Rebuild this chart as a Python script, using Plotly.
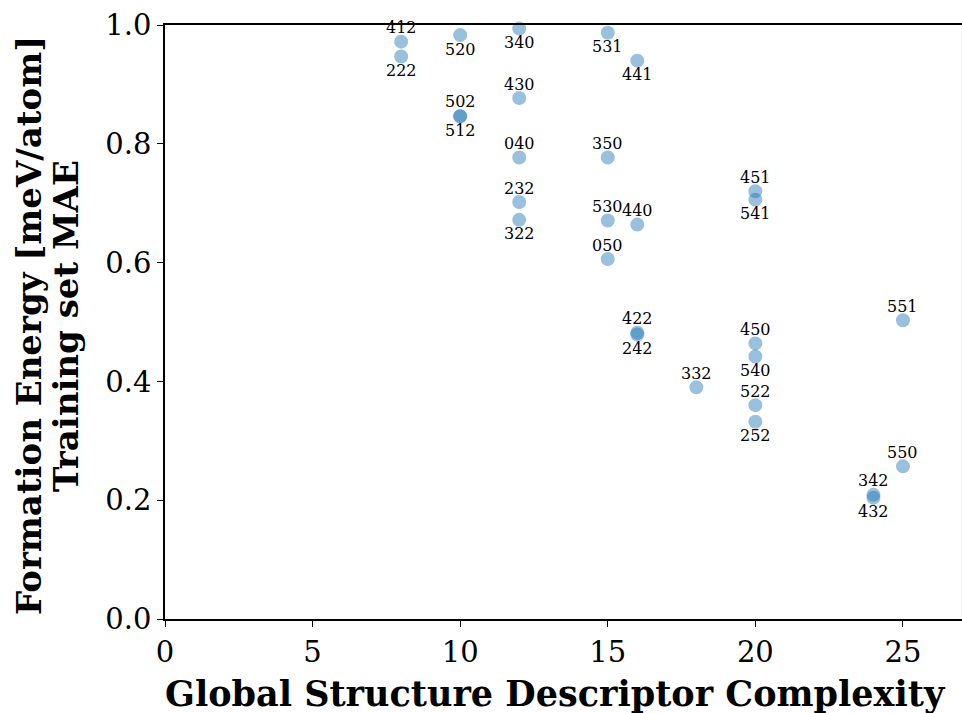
import plotly.graph_objects as go

# Descriptor complexity, training-set MAE and the (l, m, n) label of each descriptor
complexity = [8, 8, 10, 10, 10, 12, 12, 12, 12, 12, 15, 15, 15, 15, 16, 16, 16, 16,
              18, 20, 20, 20, 20, 20, 20, 24, 24, 25, 25]
mae = [0.972, 0.947, 0.983, 0.847, 0.846, 0.994, 0.877, 0.777, 0.702, 0.672,
       0.987, 0.777, 0.671, 0.606, 0.940, 0.664, 0.482, 0.479,
       0.390, 0.720, 0.706, 0.464, 0.442, 0.360, 0.332, 0.209, 0.204, 0.503, 0.257]
labels = ["412", "222", "520", "502", "512", "340", "430", "040", "232", "322",
          "531", "350", "530", "050", "441", "440", "422", "242",
          "332", "451", "541", "450", "540", "522", "252", "342", "432", "551", "550"]
label_side = ["top", "bottom", "bottom", "top", "bottom", "bottom", "top", "top", "top", "bottom",
              "bottom", "top", "top", "top", "bottom", "top", "top", "bottom",
              "top", "top", "bottom", "top", "bottom", "top", "bottom", "top", "bottom", "top", "top"]

x_ticks = [0, 5, 10, 15, 20, 25]
y_ticks = [0.0, 0.2, 0.4, 0.6, 0.8, 1.0]

x_title = "Global Structure Descriptor Complexity"
y_title_lines = ["Formation Energy [meV/atom]", "Training set MAE"]

serif = "DejaVu Serif"

fig = go.Figure()
fig.add_trace(go.Scatter(
    x=complexity, y=mae, mode="markers",
    marker=dict(size=12, color="#1f77b4", opacity=0.45,
                line=dict(color="#1f77b4", width=2)),
    cliponaxis=False,
    showlegend=False,
))

# descriptor labels just above / below each marker
for xv, yv, lab, side in zip(complexity, mae, labels, label_side):
    fig.add_annotation(
        x=xv, y=yv, text=lab, showarrow=False,
        yshift=14 if side == "top" else -14,
        font=dict(family=serif, size=16, color="black"),
    )

# axis titles
fig.add_annotation(
    xref="paper", yref="paper", x=0.5, y=0, xshift=-8, yshift=-74,
    xanchor="center", yanchor="middle", showarrow=False,
    text=f"<b>{x_title}</b>",
    font=dict(family=serif, size=35, color="black"),
)
for i, line in enumerate(y_title_lines):
    fig.add_annotation(
        xref="paper", yref="paper", x=0, y=0.5, xshift=-136 + 37 * i, yshift=-4,
        xanchor="center", yanchor="middle", textangle=-90, showarrow=False,
        text=f"<b>{line}</b>",
        font=dict(family=serif, size=34, color="black"),
    )

# right frame edge sits at the page border and is barely visible
fig.add_shape(type="line", xref="paper", yref="paper", x0=1, x1=1, y0=0, y1=1,
              line=dict(color="#e4e4e4", width=1))

axis_common = dict(
    showgrid=False, zeroline=False, showline=True, linecolor="black", linewidth=1.5,
    ticks="outside", ticklen=6, tickwidth=1.2, tickcolor="black",
    tickfont=dict(family=serif, size=29, color="black"),
)

fig.update_layout(
    width=962, height=713,
    margin=dict(l=165, r=0, t=25, b=94),
    plot_bgcolor="white", paper_bgcolor="white",
    xaxis=dict(range=[0, 27], tickvals=x_ticks, ticktext=[str(v) for v in x_ticks],
               mirror=True, **axis_common),
    yaxis=dict(range=[0, 1.0], tickvals=y_ticks, ticktext=[f"{v:.1f}" for v in y_ticks],
               mirror=False, **axis_common),
)

fig.write_html("out.html")
